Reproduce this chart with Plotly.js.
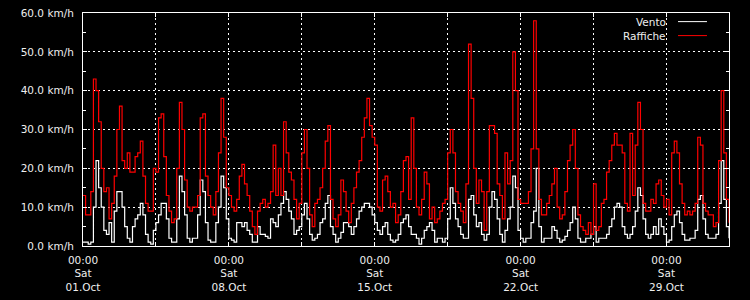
<!DOCTYPE html>
<html>
<head>
<meta charset="utf-8">
<script src="https://cdn.plot.ly/plotly-3.0.1.min.js"></script>
<style>
html,body{margin:0;padding:0;background:#000;}
#chart{width:750px;height:300px;}
</style>
</head>
<body>
<div id="chart"></div>
<script>
// Series: 3-hourly samples from 2016-10-01 00:00 to 2016-11-01 00:00 (km/h)
var startDate = '2016-10-01T00:00:00Z';
var stepHours = 3;
var raffiche = [
13,8,8,14,43,40,32,20,14,15,7,11,18,30,36,22,20,24,19,19,23,24,27,18,11,9,9,20,19,33,34,23,13,9,6,7,20,37,30,17,10,9,10,
10,13,33,34,18,13,10,8,14,24,38,28,15,13,10,9,12,18,21,16,13,9,5,3,9,11,12,10,11,14,26,13,20,13,32,24,19,17,12,7,11,
24,30,20,8,5,11,12,15,20,27,31,12,7,5,8,17,14,9,6,11,15,19,22,28,33,38,31,28,26,10,9,17,18,14,10,11,6,8,14,22,23,
12,33,20,10,8,12,19,16,7,10,6,7,9,11,12,24,30,24,14,11,9,6,16,52,38,20,11,17,14,4,14,31,31,29,16,13,7,24,16,22,50,
40,12,11,11,11,14,25,58,25,12,8,8,11,13,16,20,10,7,8,14,22,26,30,20,8,5,4,3,6,3,16,4,5,11,12,19,22,26,29,26,26,
24,11,9,29,13,26,37,30,11,9,9,12,11,16,17,13,10,12,8,24,27,24,16,11,8,9,8,9,11,28,26,11,9,8,8,5,6,22,40,24,12,6
];
var vento = [
1,1,0.5,1,10,22,15,10,4,3,6,1,9,14,14,10,5,2,1,5,7,8,11,8,3,1,0.5,4,6,8,11,11,7,2,1,1,7,18,14,8,2,1,2,
2,8,17,14,6,1.5,1,1,6,10,18,15,7,2,1.5,1,6,6,5,6,4,3,1,1,5,3,3,2.5,2,7,6,5,8,11,14,12,9,7,3,4,5,
8,11,7,3,1.5,2,3,6,7,11,13,5,3,1,2,3.5,6,6,5,3,5,7,9,10,11,11,10,8,6,4,3,5,6,3,1.5,1,1.5,3,6,7,8,
5,3,3,2,0.5,2,4,5,6,4,1,2,2,1,2,7,15,11,7,5,3,2,2,12,13,8,5,6,3,1.5,3,10,14,12,7,3,1,4,7,10,18,
15,4,2,1,2,2,6,9,20,5,1,2,2,2,5,4,2,1,1.5,2.5,4,6,10,7,2,1,1,2,2,3,5,1,2,2,2,3,5,7,10,11,10,
5,3,2,3,5,9,15,13,7,3,2,3,5,3,7,5,3,1,1.5,5,8,9,6,3,1.5,1.5,2,2,4,12,13,7,3,2,2,2,3,11,22,12,5,2
];
var seriesNames = ['Vento', 'Raffiche'];
var tickTime = '00:00';
var tickDay = 'Sat';
var tickDates = ['01.Oct', '08.Oct', '15.Oct', '22.Oct', '29.Oct'];
var yTickSuffix = ' km/h';

var t0 = Date.parse(startDate);
function fmt(ms){
  var d = new Date(ms);
  function p(n){return (n<10?'0':'')+n;}
  return d.getUTCFullYear()+'-'+p(d.getUTCMonth()+1)+'-'+p(d.getUTCDate())+' '+p(d.getUTCHours())+':'+p(d.getUTCMinutes());
}
var times = vento.map(function(_, i){ return fmt(t0 + i*stepHours*3600000); });

// ticks every 3.5 days, labels on each week
var tickvals = [], ticktext = [];
for (var k = 0; k < 9; k++) {
  tickvals.push(fmt(t0 + k*84*3600000));
  ticktext.push(k % 2 === 0 ? (tickTime + '<br>' + tickDay + '<br>' + tickDates[k/2]) : '');
}

var font = {family: 'DejaVu Sans', size: 10.5, color: '#eeeeee'};

var traces = [
  {x: times, y: vento, name: seriesNames[0], type: 'scatter', mode: 'lines',
   line: {color: '#ffffff', width: 1.2, shape: 'hv'}},
  {x: times, y: raffiche, name: seriesNames[1], type: 'scatter', mode: 'lines',
   line: {color: '#ff0000', width: 1.2, shape: 'hv'}}
];

var layout = {
  width: 750, height: 300,
  margin: {l: 83, r: 21, t: 13, b: 54, pad: 0},
  paper_bgcolor: '#000000', plot_bgcolor: '#000000',
  showlegend: false,
  font: font,
  xaxis: {
    type: 'date',
    range: [fmt(t0), fmt(t0 + 31*24*3600000)],
    tickmode: 'array', tickvals: tickvals, ticktext: ticktext,
    ticks: 'inside', ticklen: 4, tickcolor: '#ffffff',
    showgrid: true, gridcolor: '#ffffff', gridwidth: 1, griddash: '2px,3px',
    showline: true, linecolor: '#ffffff', linewidth: 1, mirror: 'ticks',
    zeroline: false, tickfont: font, ticklabelstandoff: 4
  },
  yaxis: {
    range: [0, 60], dtick: 10, tick0: 0,
    tickformat: '.1f', ticksuffix: yTickSuffix,
    ticks: 'inside', ticklen: 4, tickcolor: '#ffffff',
    minor: {dtick: 5, ticks: 'inside', ticklen: 3, tickcolor: '#ffffff', showgrid: false},
    showgrid: true, gridcolor: '#ffffff', gridwidth: 1, griddash: '2px,3px',
    showline: true, linecolor: '#ffffff', linewidth: 1, mirror: 'ticks',
    zeroline: false, tickfont: font, ticklabelstandoff: 6
  },
  annotations: [
    {xref: 'paper', yref: 'paper', x: 0.9055, y: 0.963, xanchor: 'right', yanchor: 'middle',
     text: seriesNames[0], showarrow: false, font: font},
    {xref: 'paper', yref: 'paper', x: 0.9055, y: 0.903, xanchor: 'right', yanchor: 'middle',
     text: seriesNames[1], showarrow: false, font: font}
  ],
  shapes: [
    {type: 'line', xref: 'paper', yref: 'paper', x0: 0.9211, x1: 0.9659, y0: 0.963, y1: 0.963,
     line: {color: '#ffffff', width: 1}},
    {type: 'line', xref: 'paper', yref: 'paper', x0: 0.9211, x1: 0.9659, y0: 0.903, y1: 0.903,
     line: {color: '#ff0000', width: 1}}
  ]
};

Plotly.newPlot('chart', traces, layout, {displayModeBar: false, staticPlot: true});
</script>
</body>
</html>
